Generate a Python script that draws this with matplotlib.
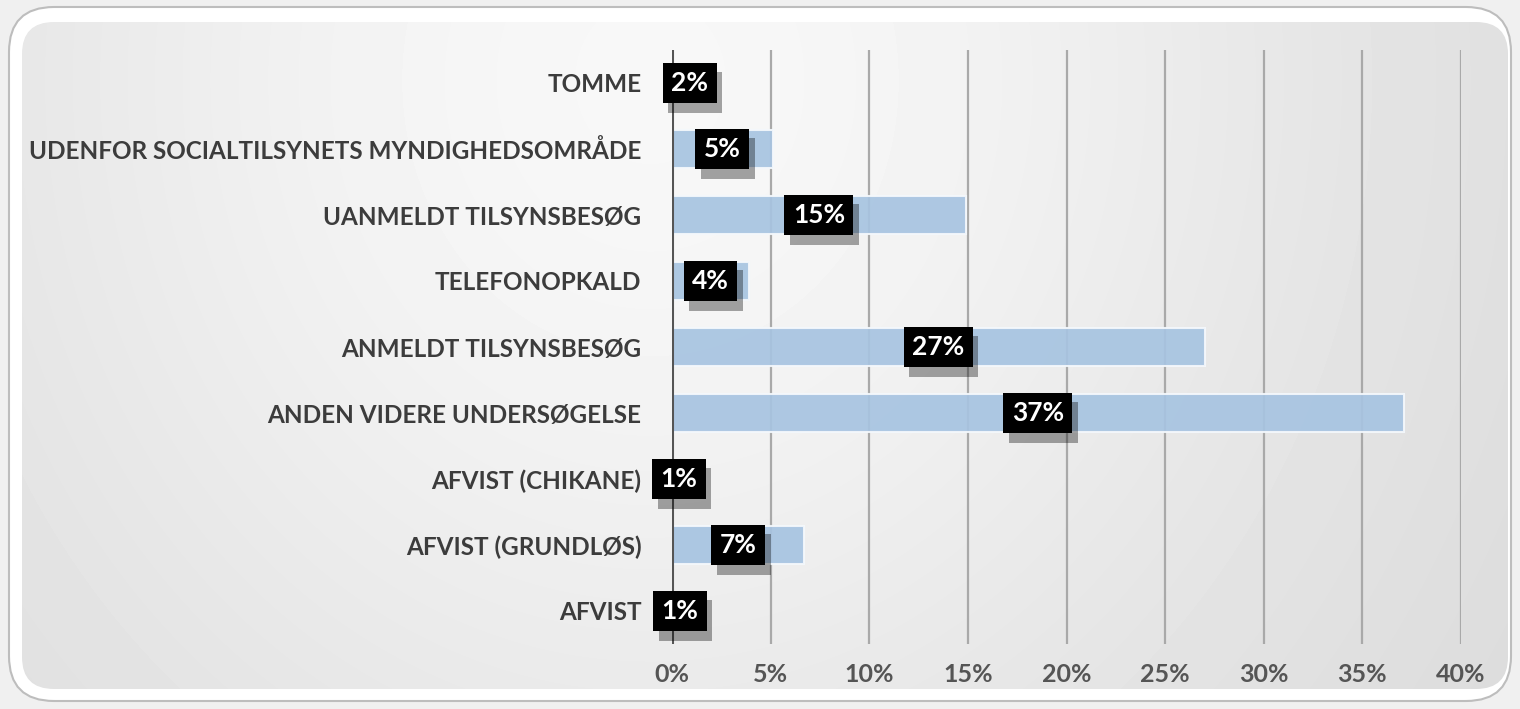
import matplotlib
matplotlib.use("Agg")
import matplotlib.pyplot as plt
import numpy as np
from matplotlib.patches import FancyBboxPatch
from matplotlib.ticker import PercentFormatter
import matplotlib.patheffects as pe

# data (top to bottom as shown)
categories = [
    "TOMME",
    "UDENFOR SOCIALTILSYNETS MYNDIGHEDSOMRÅDE",
    "UANMELDT TILSYNSBESØG",
    "TELEFONOPKALD",
    "ANMELDT TILSYNSBESØG",
    "ANDEN VIDERE UNDERSØGELSE",
    "AFVIST (CHIKANE)",
    "AFVIST (GRUNDLØS)",
    "AFVIST",
]
values = [1.8, 5.1, 14.9, 3.9, 27.0, 37.1, 0.7, 6.7, 0.8]
x_ticks = [0, 5, 10, 15, 20, 25, 30, 35, 40]

plt.rcParams['font.family'] = ['Lato', 'DejaVu Sans']

W, H = 1520, 709
fig = plt.figure(figsize=(W / 100, H / 100), dpi=100, facecolor='#f0f0f0')

# background panel
bg = fig.add_axes([0, 0, 1, 1])
bg.set_xlim(0, W)
bg.set_ylim(H, 0)
bg.axis('off')
outer = FancyBboxPatch((9, 7), W - 18, H - 15, boxstyle="round,pad=0,rounding_size=45",
                       facecolor='white', edgecolor='#bdbdbd', lw=1.5)
bg.add_patch(outer)
inner = FancyBboxPatch((22, 22), W - 34, H - 42, boxstyle="round,pad=0,rounding_size=32",
                       facecolor='none', edgecolor='none')
bg.add_patch(inner)
yy, xx = np.mgrid[0:H, 0:W]
dist = np.sqrt((xx - 650) ** 2 + ((yy - 80) * 0.9) ** 2)
shade = 0.845 + 0.125 * np.exp(-(dist / 750) ** 2)
img = bg.imshow(shade, cmap='gray', vmin=0, vmax=1, extent=(0, W, H, 0), zorder=1)
img.set_clip_path(inner)

# chart axes
ax = fig.add_axes([672 / W, 65 / H, 789 / W, 594 / H])
ax.patch.set_alpha(0)
y = np.arange(len(categories))
ax.barh(y, values, height=0.58, color='#a7c4e1', alpha=0.92,
        edgecolor='#f4f8fc', linewidth=1.5, zorder=2)
ax.set_xlim(0, 40)
ax.set_ylim(len(categories) - 0.5, -0.5)
ax.set_xticks(x_ticks)
ax.xaxis.set_major_formatter(PercentFormatter(decimals=0))
for t in x_ticks[1:]:
    ax.axvline(t, color='#a9a9a9', lw=1.6, zorder=1)
ax.axvline(0, color='#555555', lw=2.2, zorder=3)
for s in ax.spines.values():
    s.set_visible(False)
ax.set_yticks(y)
ax.set_yticklabels(categories)
ax.tick_params(axis='y', length=0, pad=22, labelsize=17.5, labelcolor='#3c3c3c')
ax.tick_params(axis='x', length=0, pad=14, labelsize=18, labelcolor='#555555')
for lab in ax.get_yticklabels() + ax.get_xticklabels():
    lab.set_fontweight('bold')

# value boxes with shadow
for i, v in enumerate(values):
    t = ax.text(v / 2, i, f"{round(v):.0f}%", ha='center', va='center',
                fontsize=19, fontweight='bold', color='white', zorder=5,
                bbox=dict(boxstyle='square,pad=0.32', facecolor='black', edgecolor='none'))
    t.get_bbox_patch().set_path_effects([
        pe.SimplePatchShadow(offset=(4, -7), shadow_rgbFace='black', alpha=0.35),
        pe.Normal()])

fig.savefig('out.png', dpi=100, facecolor=fig.get_facecolor())
